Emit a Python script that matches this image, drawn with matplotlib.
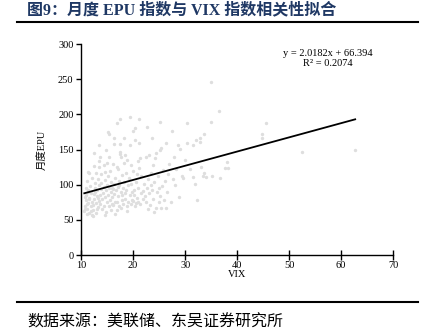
import matplotlib
matplotlib.use("Agg")
import matplotlib.pyplot as plt
from matplotlib.lines import Line2D

plt.rcParams['font.family'] = ['Liberation Serif', 'Noto Sans CJK SC', 'DejaVu Sans']

title = "图9：月度 EPU 指数与 VIX 指数相关性拟合"
source = "数据来源：美联储、东吴证券研究所"
xlabel = "VIX"
ylabel = "月度EPU"
slope = 2.0182
intercept = 66.394
r2 = 0.2074
xticks = [10, 20, 30, 40, 50, 60, 70]
yticks = [0, 50, 100, 150, 200, 250, 300]

points = [
    (10.6,62),(10.8,70),(10.9,78),(11.0,85),(11.1,58),(11.2,66),(11.3,92),(11.4,74),(11.5,81),(11.6,60),
    (11.7,98),(11.8,69),(11.9,88),(12.0,76),(10.7,83),(10.9,95),(11.2,105),(11.5,117),(11.1,72),(11.8,63),
    (12.0,57),(11.4,89),(11.6,79),(10.8,66),(12.1,110),(11.3,118.5),
    (12.2,64),(12.3,71),(12.4,80),(12.5,87),(12.6,95),(12.7,102),(12.8,60),(12.9,74),(13.0,84),(13.1,92),
    (13.2,108),(13.3,68),(13.4,77),(13.5,99),(13.6,86),(13.7,72),(13.8,115),(13.9,94),(12.4,127),(12.5,145),
    (13.5,133),(13.7,139),(13.5,157),(12.3,56),(13.0,65),(13.2,81),(12.6,90),(13.9,103),(12.9,117),(13.4,125),
    (14.0,66),(14.1,79),(14.2,88),(14.3,97),(14.4,70),(14.5,106),(14.6,83),(14.7,92),(14.8,61),(14.9,75),
    (15.0,99),(15.1,112),(15.2,86),(15.3,69),(15.4,95),(15.5,120),(15.6,78),(15.7,104),(15.8,89),(15.9,73),
    (14.8,149),(15.3,139),(15.2,175),(15.4,171.6),(14.3,128),(15.0,131),(14.5,57),(15.7,64),(14.6,118),(15.9,96),
    (16.0,82),(16.1,94),(16.2,71),(16.3,101),(16.4,87),(16.5,76),(16.6,110),(16.7,92),(16.8,64),(16.9,125.6),
    (17.0,84),(17.1,97),(17.2,70),(17.3,105),(17.4,146),(17.5,143),(17.6,139),(17.7,90),(17.8,78),(17.9,114),
    (16.3,167),(16.4,158),(17.5,158),(16.8,188),(17.4,193),(16.2,130),(17.0,122),(16.6,59),(17.2,100),(17.8,86),
    (16.9,75),(17.6,67),
    (18.0,95),(18.1,73),(18.2,104),(18.3,131),(18.4,88),(18.5,80),(18.6,117),(18.7,92),(18.8,69),(18.9,135),
    (19.0,99),(19.1,76),(19.2,110),(19.3,157),(19.3,196),(19.4,85),(19.5,72),(19.6,101),(19.7,90),(19.8,78),
    (18.3,167),(18.5,142),(19.9,120),(18.9,63),(19.5,128),
    (20.0,77),(20.1,93),(20.2,86),(20.4,180),(20.4,163.5),(20.0,176),(20.5,74),(20.6,104),(20.8,81),(21.0,133),
    (21.0,95),(21.2,158.8),(21.2,194),(21.3,72),(21.4,137.4),(21.5,88),(21.6,112),(21.8,79),(22.0,101),(20.3,69),
    (20.7,115),(21.1,124),(21.9,91),(20.9,76),
    (22.2,84),(22.4,139),(22.6,182),(22.5,75),(22.7,96),(22.9,108),(23.1,142),(23.0,88),(23.3,71),(23.5,117),
    (23.6,166),(23.7,93),(23.9,80),(24.0,61.6),(24.2,137.4),(24.3,67),(24.4,145.5),(24.1,104),(23.8,128),(22.8,66),
    (23.4,99),
    (24.6,90),(24.8,113),(25.1,149),(25.1,189.6),(25.4,152.6),(25.4,66.4),(25.2,84),(25.6,98),(25.8,121),(26.0,78),
    (26.4,66.8),(26.4,159.7),(26.2,105),(26.6,90),(26.9,130),(25.0,95),(24.9,76),(26.7,115),
    (27.3,74.9),(27.4,176),(27.6,108),(28.1,99),(28.3,123),(28.7,157),(28.9,83),(29.0,150.7),(29.3,113),(29.6,109),
    (30.3,188),(30.3,158.8),(30.9,122.7),(31.5,156.4),(31.5,111),(31.9,101),(32.2,77.7),(32.0,163),(32.8,167),(32.8,160),
    (33.1,125),(33.5,112.8),(33.6,172),(30.0,135),(27.9,140),
    (33.7,116),(34.0,111),(35.2,112),(36.7,109.5),(35.0,245.6),(36.5,205),(35.0,188.7),(37.7,124),(38.1,132),(38.2,124),
    (44.7,172),(44.8,167),(45.6,187.3),(52.4,146),(62.7,149),
]
vix = [p[0] for p in points]
epu = [p[1] for p in points]

fig = plt.figure(figsize=(4.25, 3.36), dpi=100)
ax = fig.add_axes([0.191, 0.241, 0.734, 0.628])

ax.scatter(vix, epu, s=6, color='#dedede', linewidths=0, zorder=2)
x0, x1 = min(vix), max(vix)
ax.plot([x0, x1], [slope * x0 + intercept, slope * x1 + intercept], color='black', lw=1.3, zorder=3)

ax.set_xlim(10, 70)
ax.set_ylim(0, 300)
ax.set_xticks(xticks)
ax.set_yticks(yticks)
for s in ['top', 'right']:
    ax.spines[s].set_visible(False)
for s in ['left', 'bottom']:
    ax.spines[s].set_linewidth(1.0)
    ax.spines[s].set_color('black')
ax.tick_params(axis='x', direction='inout', length=7, width=1.0, labelsize=7.5, pad=1)
ax.tick_params(axis='y', direction='out', length=3.5, width=1.0, labelsize=7.5, pad=2)
ax.set_xlabel(xlabel, fontsize=7.5, labelpad=0)
ax.set_ylabel(ylabel, fontsize=7.5, labelpad=8)

ax.text(0.79, 0.93, f"y = {slope}x + {intercept}\nR² = {r2}", transform=ax.transAxes,
        ha='center', va='center', fontsize=7.5, linespacing=1.1)

fig.text(27/425, 1 - 10/336, title, ha='left', va='center', fontsize=11.5, fontweight='bold',
         color='#1f3864', family=['Liberation Serif', 'Noto Sans CJK SC'])
fig.add_artist(Line2D([17/425, 418/425], [1 - 22/336, 1 - 22/336], color='black', lw=1.5,
                      transform=fig.transFigure))
fig.add_artist(Line2D([17/425, 418/425], [1 - 302/336, 1 - 302/336], color='black', lw=1.5,
                      transform=fig.transFigure))
fig.text(27/425, 1 - 322/336, source, ha='left', va='center', fontsize=11.5,
         family=['Noto Sans CJK SC'])

fig.savefig('out.png', dpi=100)
